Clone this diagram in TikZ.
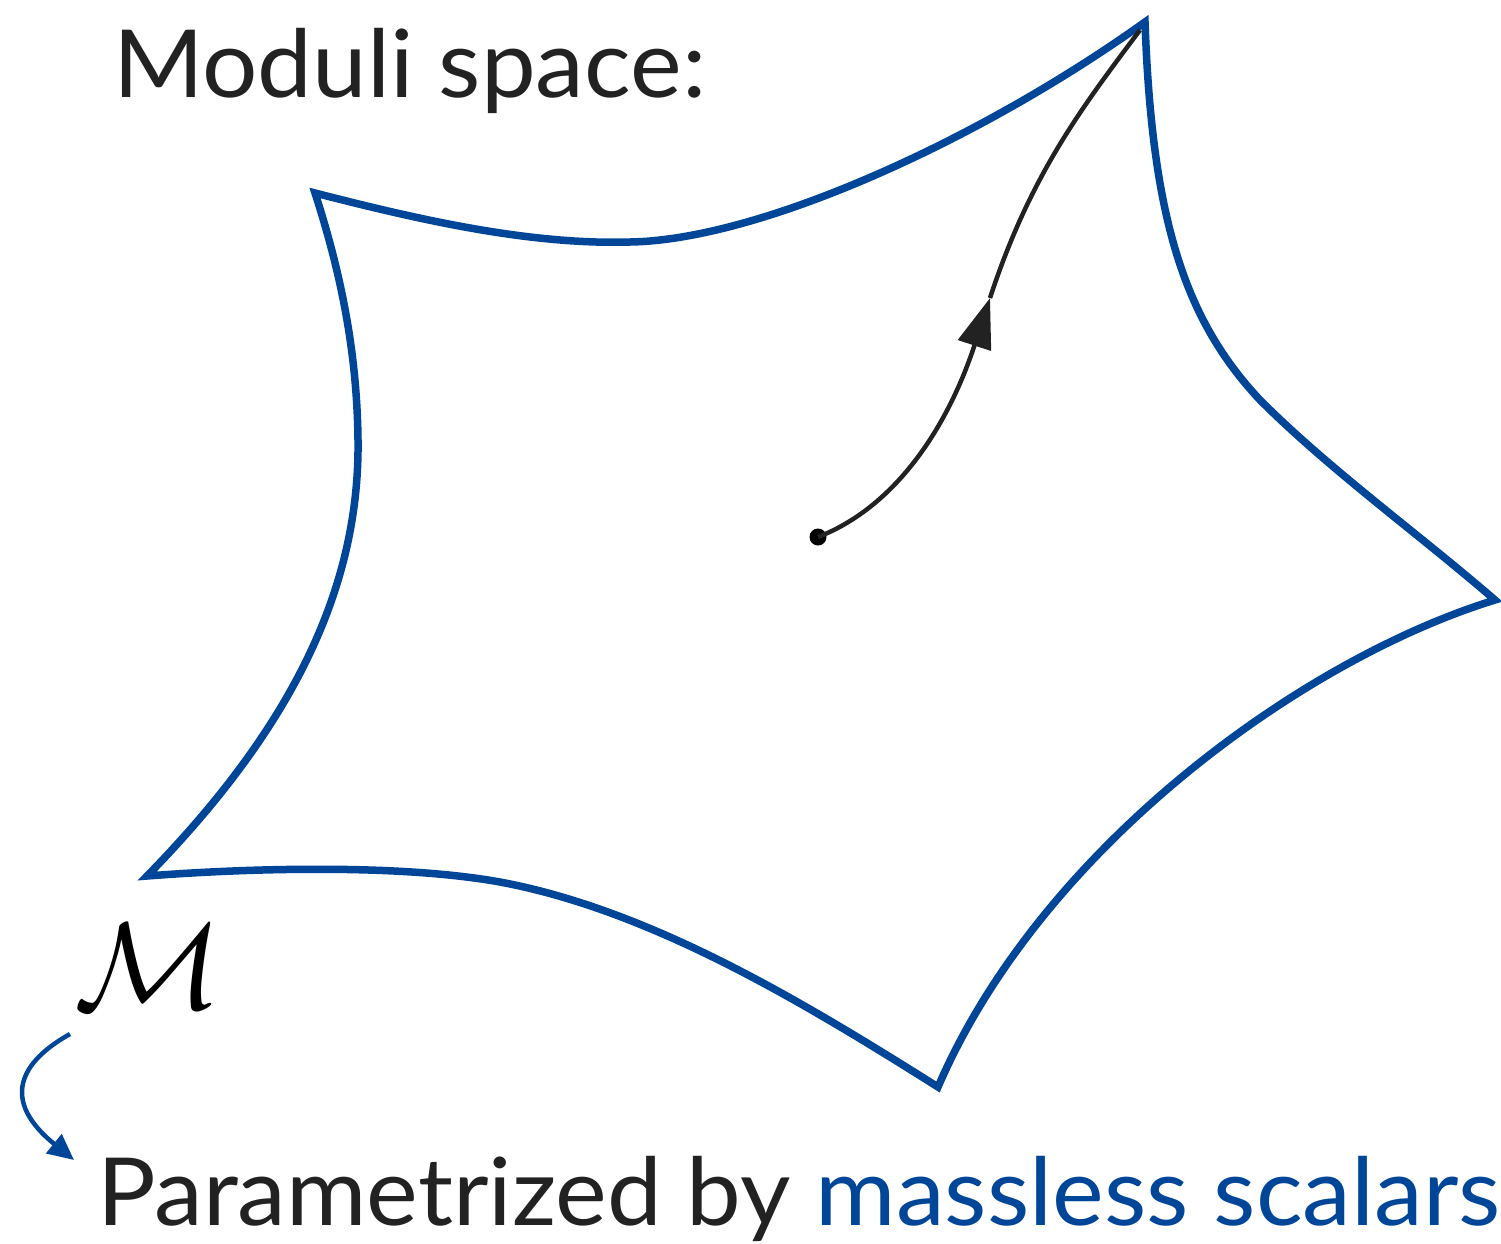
\documentclass[tikz,border=0pt]{standalone}
\usepackage{fontspec}
\setmainfont{Lato}
\newfontfamily\widefont[FakeStretch=1.04]{Lato}
\usetikzlibrary{arrows.meta}
\definecolor{starblue}{RGB}{0,70,152}
\definecolor{ink}{RGB}{34,34,34}
\tikzset{
  starline/.style={draw=starblue, line width=7.5pt, line join=miter},
  pathline/.style={draw=ink, line width=4.5pt},
  bigtext/.style={inner sep=0pt, anchor=base west, text=ink, font=\widefont\fontsize{94}{100}\selectfont},
}
\begin{document}
\begin{tikzpicture}[x=1pt,y=-1pt]
\useasboundingbox (0,0) rectangle (1501,1243);
% star-shaped moduli space
\path[starline] (315,193) .. controls (420,220) and (530,245) .. (630,242)
  .. controls (760,240) and (980,140) .. (1145,22)
  .. controls (1152,220) and (1185,320) .. (1260,400)
  .. controls (1330,470) and (1420,535) .. (1495,600)
  .. controls (1300,660) and (1040,850) .. (938,1087)
  .. controls (800,1000) and (650,910) .. (500,882)
  .. controls (400,864) and (250,868) .. (147,876)
  .. controls (280,740) and (360,600) .. (358,440)
  .. controls (357,350) and (340,270) .. cycle;
% point and path
\node[circle, fill=black, minimum size=17pt, inner sep=0pt] (p) at (818,537) {};
\coordinate (mid) at (990,298);
\coordinate (tip) at (1140,30);
\draw[pathline, -{Triangle[length=50pt,width=34pt]}] (p.center) .. controls (900,505) and (950,420) .. (mid);
\draw[pathline] (mid) .. controls (1030,176) and (1080,110) .. (tip);
% labels
\node[bigtext] (title) at (113,97) {Moduli space:};
\node[inner sep=0pt, anchor=base west] (M) at (74,1008) {\scalebox{12.3}{$\mathcal{M}$}};
\node[bigtext] (param) at (97,1225) {Parametrized by \textcolor{starblue}{massless scalars}};
\coordinate (a0) at (70,1034);
\coordinate (a1) at (74,1160);
\draw[draw=starblue, line width=4.5pt, -{Triangle[length=26pt,width=24pt]}] (a0) .. controls (20,1062) and (0,1100) .. (a1);
\end{tikzpicture}
\end{document}
